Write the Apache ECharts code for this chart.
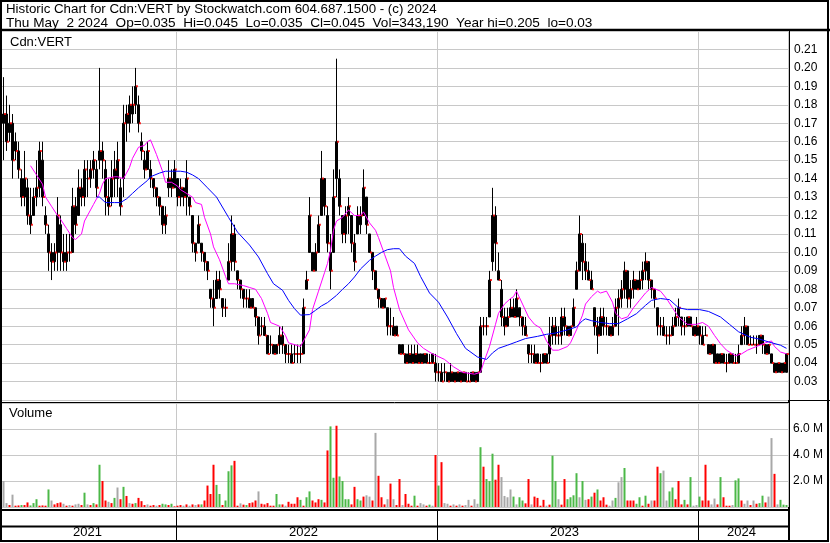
<!DOCTYPE html>
<html><head><meta charset="utf-8">
<script src="https://cdn.jsdelivr.net/npm/echarts@6/dist/echarts.min.js"></script>
<style>html,body{margin:0;padding:0;background:#fff}#c{width:830px;height:543px}</style>
</head><body><div id="c"></div>
<script>
// ---- data (each bucket ~3 trading days) ----
const hi=[.195,.185,.18,.175,.165,.16,.145,.155,.14,.135,
.135,.15,.16,.16,.125,.115,.105,.105,.13,.12,
.11,.11,.11,.135,.13,.145,.14,.15,.15,.15,
.155,.15,.20,.16,.15,.14,.15,.155,.16,.14,
.18,.18,.185,.19,.20,.185,.165,.155,.16,.15,
.14,.135,.13,.125,.125,.15,.145,.15,.14,.14,
.135,.15,.13,.12,.105,.12,.105,.10,.095,.08,
.085,.09,.09,.075,.075,.105,.12,.115,.09,.085,
.08,.08,.08,.075,.07,.065,.065,.065,.055,.055,
.05,.05,.06,.06,.05,.05,.05,.05,.05,.05,
.075,.09,.13,.10,.105,.12,.155,.14,.125,.11,
.145,.205,.145,.12,.125,.13,.12,.11,.125,.125,
.145,.13,.11,.10,.09,.08,.075,.075,.07,.07,
.065,.06,.05,.05,.045,.05,.05,.05,.05,.045,
.045,.045,.045,.045,.045,.04,.04,.04,.035,.04,
.035,.035,.035,.035,.035,.035,.035,.035,.035,.065,
.065,.065,.09,.135,.125,.10,.085,.07,.07,.075,
.075,.08,.07,.065,.065,.05,.05,.05,.045,.045,
.045,.045,.065,.065,.065,.06,.07,.07,.06,.06,
.075,.095,.12,.11,.105,.095,.09,.07,.065,.07,
.07,.065,.06,.065,.075,.08,.085,.095,.09,.085,
.09,.085,.09,.095,.10,.095,.085,.08,.07,.065,
.065,.06,.06,.065,.07,.075,.065,.065,.065,.065,
.06,.065,.06,.06,.06,.05,.05,.05,.045,.045,
.045,.045,.045,.045,.045,.05,.06,.065,.06,.055,
.055,.055,.055,.055,.05,.05,.045,.04,.04,.04,
.04,.045];
const lo=[.15,.155,.16,.14,.15,.14,.125,.125,.115,.11,
.12,.125,.13,.125,.11,.09,.085,.09,.09,.09,
.09,.09,.095,.10,.11,.12,.125,.125,.13,.135,
.14,.13,.145,.14,.12,.12,.125,.13,.13,.12,
.13,.16,.165,.17,.175,.165,.15,.14,.145,.135,
.13,.125,.12,.11,.11,.13,.13,.135,.125,.125,
.125,.12,.12,.10,.095,.105,.095,.09,.085,.07,
.06,.075,.075,.065,.065,.085,.09,.09,.08,.075,
.07,.07,.07,.07,.06,.05,.055,.055,.045,.045,
.045,.045,.045,.045,.04,.04,.04,.04,.04,.04,
.045,.08,.10,.09,.09,.10,.12,.12,.10,.08,
.10,.13,.12,.105,.105,.11,.10,.09,.11,.11,
.12,.11,.10,.085,.08,.07,.07,.07,.055,.055,
.055,.055,.045,.045,.04,.04,.04,.04,.04,.04,
.04,.04,.04,.04,.03,.03,.03,.03,.03,.03,
.03,.03,.03,.03,.03,.03,.03,.03,.03,.035,
.055,.055,.065,.09,.09,.085,.06,.055,.06,.065,
.065,.065,.06,.055,.055,.04,.04,.04,.04,.035,
.04,.04,.04,.05,.05,.05,.05,.055,.055,.055,
.06,.08,.09,.085,.085,.085,.08,.055,.045,.055,
.055,.055,.055,.055,.06,.055,.07,.075,.07,.07,
.075,.08,.08,.08,.085,.08,.075,.07,.055,.055,
.055,.05,.05,.055,.06,.06,.055,.055,.06,.06,
.055,.055,.05,.05,.055,.045,.045,.04,.04,.04,
.04,.035,.04,.04,.04,.04,.05,.05,.05,.05,
.05,.045,.05,.045,.045,.045,.04,.035,.035,.035,
.035,.035];
const op=[.17,.175,.165,.17,.16,.155,.14,.13,.135,.12,
.12,.13,.135,.15,.12,.11,.10,.095,.10,.115,
.10,.095,.10,.10,.125,.12,.135,.13,.14,.14,
.145,.145,.15,.155,.145,.13,.13,.14,.14,.135,
.14,.17,.17,.175,.18,.18,.16,.15,.145,.145,
.14,.135,.13,.125,.115,.135,.14,.135,.14,.13,
.135,.13,.13,.12,.105,.105,.105,.10,.095,.08,
.075,.075,.085,.075,.07,.085,.095,.11,.09,.085,
.08,.075,.075,.075,.07,.065,.06,.06,.055,.05,
.05,.045,.05,.055,.05,.045,.045,.045,.045,.045,
.045,.08,.10,.10,.09,.10,.12,.14,.12,.10,
.10,.14,.14,.12,.11,.12,.12,.105,.11,.115,
.12,.13,.11,.10,.09,.08,.075,.07,.07,.06,
.06,.06,.05,.05,.045,.04,.045,.04,.045,.045,
.04,.045,.04,.045,.04,.035,.035,.035,.035,.03,
.035,.03,.035,.03,.035,.03,.03,.035,.03,.035,
.06,.06,.065,.095,.12,.09,.08,.065,.06,.065,
.07,.065,.07,.065,.06,.05,.045,.045,.045,.04,
.04,.045,.045,.055,.06,.055,.055,.065,.06,.055,
.06,.08,.09,.105,.095,.09,.085,.07,.06,.055,
.065,.06,.06,.055,.06,.07,.075,.08,.09,.075,
.08,.085,.08,.085,.09,.095,.085,.08,.07,.06,
.06,.055,.055,.055,.06,.065,.065,.06,.06,.065,
.06,.055,.06,.055,.055,.05,.045,.05,.045,.04,
.045,.04,.04,.045,.04,.04,.05,.055,.06,.05,
.05,.05,.05,.055,.05,.045,.045,.04,.035,.04,
.035,.035];
const cl=[.175,.16,.17,.15,.155,.145,.13,.14,.12,.115,
.13,.135,.155,.13,.115,.10,.095,.10,.12,.10,
.095,.10,.10,.125,.115,.135,.13,.145,.14,.145,
.15,.135,.155,.15,.13,.125,.14,.145,.15,.125,
.17,.175,.18,.18,.19,.17,.155,.145,.155,.14,
.135,.13,.125,.115,.12,.14,.135,.145,.13,.135,
.13,.14,.125,.105,.10,.115,.10,.095,.09,.075,
.07,.085,.08,.07,.07,.095,.11,.095,.085,.08,
.075,.075,.07,.07,.065,.055,.06,.055,.045,.05,
.045,.05,.055,.05,.045,.045,.04,.045,.045,.045,
.07,.085,.12,.09,.10,.115,.14,.125,.105,.09,
.13,.16,.125,.11,.12,.125,.105,.095,.12,.12,
.135,.115,.10,.09,.08,.075,.07,.075,.06,.06,
.055,.055,.045,.045,.04,.045,.04,.045,.04,.04,
.045,.04,.04,.04,.035,.035,.03,.035,.03,.035,
.03,.035,.03,.035,.03,.03,.035,.03,.035,.06,
.06,.06,.085,.12,.105,.085,.065,.06,.065,.07,
.065,.075,.065,.06,.055,.045,.045,.04,.04,.04,
.045,.04,.055,.06,.055,.055,.065,.06,.055,.06,
.07,.09,.11,.095,.09,.085,.08,.06,.055,.065,
.06,.06,.055,.06,.07,.075,.08,.09,.075,.08,
.085,.08,.085,.09,.095,.085,.08,.075,.06,.06,
.055,.055,.055,.06,.065,.07,.06,.06,.065,.06,
.055,.06,.055,.05,.055,.045,.05,.04,.04,.045,
.04,.04,.045,.04,.04,.045,.055,.06,.05,.05,
.05,.05,.055,.05,.045,.05,.04,.035,.04,.035,
.04,.045];
// volume in millions, and direction (g up, r down, n unchanged)
const vol=[2.0,.3,.15,.95,.1,.12,.15,.15,.35,.12,
.3,.6,.1,.12,.1,1.35,.5,.2,.3,.35,
.25,.1,.15,.1,.2,.25,.15,1.1,.2,.15,
.3,.2,3.25,2.0,.5,.4,.3,.7,1.5,.6,
1.55,.85,.3,.25,.3,.7,.45,.15,.2,.1,
.15,.1,.15,.25,.2,.15,.25,.05,.1,.15,
.1,.2,.1,.2,.15,.2,.2,.5,1.65,1.0,
3.25,1.7,1.0,.15,.5,2.75,3.2,3.55,.1,.28,
.18,.15,.3,.35,.5,1.2,.25,.2,.3,.1,
.1,1.0,.2,.2,.1,.4,.25,.25,.75,.55,
.1,.75,1.2,.5,.35,.6,.55,.35,4.35,6.2,
2.25,6.25,2.35,2.0,.6,.6,.2,1.55,.6,.5,
.8,.9,.8,.5,5.7,2.4,.75,.2,.6,1.8,
.6,.15,2.15,.15,1.0,.25,.1,.87,.1,.3,
.2,.1,.18,.1,4.0,1.65,3.45,.3,.25,.1,
.2,.1,.2,.1,.15,.55,.1,.6,.25,4.6,
3.1,2.15,2.0,4.1,2.1,3.25,2.3,.85,.75,1.35,
.8,.2,.75,.5,.28,2.15,.2,.8,.7,.1,
.55,.1,.18,3.95,2.0,.6,.18,2.15,.6,.75,
.9,2.6,.75,2.0,.55,.6,.8,1.1,1.35,.5,
.75,.18,.1,.5,.7,1.9,2.3,3.0,.5,.5,
.5,.25,.75,.1,.87,.25,.5,.5,3.1,2.6,
2.8,.5,1.2,1.5,.6,2.0,.2,.55,.2,2.3,
.1,.15,.8,.5,3.25,.5,.2,.65,.2,2.3,
.75,.1,.1,.15,2.05,2.2,.5,.25,.5,.15,
.5,.25,.3,.87,.35,.8,5.3,2.55,.2,.55,
.18,.15];
const volDir=('nnrnrrgrrg'+'ggrrrgnrrr'+'nrnrnnrgnr'+'grgrrnrgnr'+'grnrgrrrnr'+
'rnrggrgrrr'+'nrnrnrgrrr'+'rggrgggrrn'+'rgrrrnrrrr'+'rggrnrrrrg'+
'rggrrrgrrg'+'grggggrrgg'+'rnnrnrrrnr'+'nrrnrrrgrn'+'nrgnrgrnnr'+
'nrnrnnrnng'+'rgggrrnnnn'+'gnggrrnrrr'+'rnrggnrrgg'+'ggngnrgrgr'+
'rrnngnngrr'+'rggrgrnrrg'+'nnggrrrgrg'+'nngrrrnnrg'+'rrrnggrnnr'+
'nrggrnnrng'+'gg').split('');
// moving averages: [bucket index, value]
const maShort=[[9,.147],[11,.142],[13,.137],[14,.130],[16,.125],[18,.120],[19,.118],[21,.113],[23,.108],[24,.107],
[26,.110],[27,.117],[29,.123],[30,.126],[32,.132],[33,.137],[34,.140],[37,.141],[38,.141],[40,.140],
[42,.146],[43,.151],[45,.157],[47,.158],[48,.160],[49,.161],[51,.153],[53,.144],[54,.138],[56,.138],
[58,.136],[59,.134],[61,.132],[63,.130],[64,.127],[66,.126],[67,.119],[69,.110],[70,.103],[72,.096],
[74,.087],[75,.083],[77,.083],[80,.082],[82,.081],[84,.080],[86,.075],[88,.067],[89,.062],[92,.060],
[94,.055],[95,.051],[97,.050],[99,.049],[100,.052],[102,.058],[103,.069],[105,.079],[107,.089],[108,.094],
[109,.101],[110,.112],[111,.117],[113,.119],[115,.123],[117,.120],[119,.120],[120,.122],[122,.116],[124,.112],
[125,.108],[127,.099],[129,.090],[130,.081],[132,.069],[135,.058],[138,.051],[140,.048],[143,.045],[147,.042],
[150,.038],[153,.035],[157,.034],[159,.035],[160,.040],[162,.049],[164,.061],[165,.067],[167,.072],[169,.075],
[170,.076],[171,.079],[173,.072],[175,.065],[177,.061],[179,.059],[181,.052],[183,.047],[185,.047],[188,.049],
[189,.051],[191,.058],[193,.066],[194,.072],[196,.076],[198,.079],[199,.078],[201,.079],[203,.073],[204,.067],
[206,.064],[208,.065],[210,.070],[212,.074],[214,.078],[216,.081],[219,.079],[221,.075],[223,.070],[225,.065],
[228,.061],[231,.061],[233,.062],[235,.060],[237,.055],[239,.0505],[241,.047],[244,.044],[246,.045],[248,.047],
[251,.049],[254,.051],[256,.052],[257,.049],[259,.046],[261,.045]];
const maLong=[[31,.130],[32,.130],[34,.127],[37,.127],[39,.127],[41,.129],[43,.132],[45,.135],[48,.139],[49,.141],
[52,.143],[54,.144],[57,.144],[59,.144],[61,.1435],[63,.142],[65,.140],[68,.135],[71,.130],[75,.119],
[78,.111],[82,.104],[85,.0975],[88,.0885],[90,.083],[93,.0795],[95,.074],[97,.0695],[99,.066],[102,.0663],
[104,.0686],[106,.071],[108,.0728],[111,.0767],[113,.080],[115,.083],[117,.0867],[119,.091],[122,.0957],[124,.098],
[126,.100],[128,.1015],[130,.102],[132,.102],[134,.098],[137,.094],[139,.087],[142,.078],[145,.073],[148,.065],
[151,.056],[154,.048],[158,.0433],[161,.042],[163,.0455],[165,.048],[168,.0497],[171,.0515],[174,.0533],[178,.0545],
[181,.0556],[184,.0563],[188,.058],[191,.0596],[193,.063],[194,.064],[196,.063],[199,.062],[202,.0614],[205,.0614],
[208,.064],[211,.0668],[214,.0713],[216,.074],[219,.075],[222,.0744],[225,.070],[228,.069],[232,.069],[235,.068],
[239,.065],[242,.061],[245,.057],[249,.054],[252,.053],[255,.0515],[259,.0497],[261,.048]];
const yearLabels=['2021','2022','2023','2024'];
const yearLabelIdx=[28,100,187,246];
const yearStartIdx=[58,145,232];
const buckets=hi.map((_,i)=>String(i));
const title1='Historic Chart for Cdn:VERT by Stockwatch.com 604.687.1500 - (c) 2024';
const title2='Thu May  2 2024  Op=0.035  Hi=0.045  Lo=0.035  Cl=0.045  Vol=343,190  Year hi=0.205  lo=0.03';

const FONT='Liberation Sans, Arial, sans-serif';
const dirColor={g:'#4cb848',r:'#ff0000',n:'#a8a8a8'};
const candles=hi.map((h,i)=>[op[i],cl[i],lo[i],h]);
const volData=vol.map((v,i)=>({value:v,itemStyle:{color:dirColor[volDir[i]]}}));
const isYearStart=(i)=>yearStartIdx.indexOf(i)>=0;

const xBase=(gi,extra)=>Object.assign({type:'category',data:buckets,gridIndex:gi,boundaryGap:true,
  axisLine:{show:false},axisTick:{show:false},axisLabel:{show:false},
  splitLine:{show:true,interval:(i)=>isYearStart(i),lineStyle:{color:'#c8c8c8',width:1}}},extra||{});

const chart=echarts.init(document.getElementById('c'),null,{renderer:'canvas'});
chart.setOption({
  animation:false,
  backgroundColor:'#fff',
  grid:[
    {left:2,right:42,top:31,height:369},
    {left:2,right:42,top:403,height:104},
    {left:2,right:42,top:510,height:31}
  ],
  xAxis:[
    xBase(0),
    xBase(1),
    xBase(2,{axisLabel:{show:true,inside:true,margin:2,fontFamily:FONT,fontSize:13,color:'#000',
      interval:(i)=>yearLabelIdx.indexOf(i)>=0,
      formatter:(v,i)=>{const k=yearLabelIdx.indexOf(i);return k>=0?yearLabels[k]:'';}},
      splitLine:{show:true,interval:(i)=>isYearStart(i),lineStyle:{color:'#000',width:1}}})
  ],
  yAxis:[
    {type:'value',gridIndex:0,position:'right',min:0.02,max:0.22,interval:0.01,
     axisLine:{show:false},axisTick:{show:false},
     axisLabel:{margin:6,fontFamily:FONT,fontSize:12,color:'#000',
       formatter:(v)=>{const c=Math.round(v*100);return (c<3||c>21)?'':(c/100).toFixed(2);}},
     splitLine:{show:true,lineStyle:{color:'#c8c8c8',width:1}}},
    {type:'value',gridIndex:1,position:'right',min:0,max:8,interval:2,
     axisLine:{show:false},axisTick:{show:false},
     axisLabel:{margin:5,fontFamily:FONT,fontSize:12,color:'#000',
       formatter:(v)=>(v<=0||v>=8)?'':v.toFixed(1)+' M'},
     splitLine:{show:true,lineStyle:{color:'#c8c8c8',width:1}}},
    {type:'value',gridIndex:2,min:0,max:1,show:false}
  ],
  series:[
    {type:'bar',xAxisIndex:1,yAxisIndex:1,data:volData,barWidth:2,barGap:'0%'},
    {type:'candlestick',xAxisIndex:0,yAxisIndex:0,data:candles,barWidth:2,
     itemStyle:{color:'#000',color0:'#000',borderColor:'#000',borderColor0:'#000',borderWidth:1}},
    {type:'scatter',xAxisIndex:0,yAxisIndex:0,data:cl,symbol:'rect',symbolSize:[2,2],symbolOffset:[1.5,0],
     itemStyle:{color:'#ff0000'},z:3},
    {type:'line',xAxisIndex:0,yAxisIndex:0,data:maShort,showSymbol:false,symbol:'none',
     lineStyle:{color:'#ff00ff',width:1},z:4},
    {type:'line',xAxisIndex:0,yAxisIndex:0,data:maLong,showSymbol:false,symbol:'none',
     lineStyle:{color:'#0000ff',width:1},z:4}
  ],
  graphic:[
    {type:'text',left:6,top:3,style:{text:title1,font:'13.3px '+FONT,fill:'#000'}},
    {type:'text',left:6,top:16,style:{text:title2,font:'13.6px '+FONT,fill:'#000'}},
    {type:'text',left:10,top:36,style:{text:'Cdn:VERT',font:'13px '+FONT,fill:'#000'}},
    {type:'text',left:9,top:407,style:{text:'Volume',font:'13px '+FONT,fill:'#000'}},
    {type:'line',shape:{x1:0,y1:30,x2:830,y2:30},style:{stroke:'#000',lineWidth:2.5}},
    {type:'line',shape:{x1:0,y1:400.5,x2:830,y2:400.5},style:{stroke:'#000',lineWidth:1}},
    {type:'line',shape:{x1:0,y1:402.5,x2:789,y2:402.5},style:{stroke:'#000',lineWidth:1}},
    {type:'line',shape:{x1:0,y1:510,x2:789,y2:510},style:{stroke:'#000',lineWidth:2}},
    {type:'line',shape:{x1:0,y1:526.5,x2:789,y2:526.5},style:{stroke:'#000',lineWidth:2}},
    {type:'line',shape:{x1:789,y1:30,x2:789,y2:542},style:{stroke:'#000',lineWidth:2}},
    {type:'rect',shape:{x:1,y:1,width:827,height:540},style:{fill:null,stroke:'#000',lineWidth:2}}
  ]
});
</script></body></html>
